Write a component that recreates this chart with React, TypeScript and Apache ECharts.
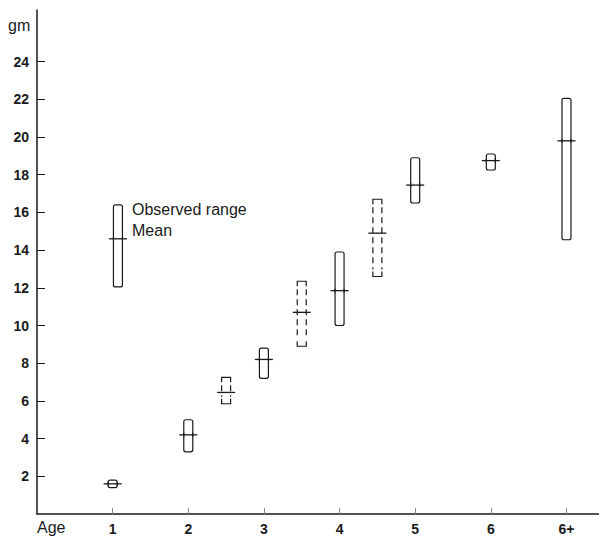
import React, { useEffect, useRef } from "react";
import * as echarts from "echarts";

const ages = [1, 2, 2.5, 3, 3.5, 4, 4.5, 5, 6, 7];
const lows = [1.4, 3.3, 5.85, 7.2, 8.9, 10.0, 12.6, 16.5, 18.25, 14.55];
const highs = [1.8, 5.0, 7.25, 8.8, 12.35, 13.9, 16.7, 18.9, 19.1, 22.05];
const means = [1.6, 4.2, 6.45, 8.2, 10.7, 11.85, 14.9, 17.45, 18.75, 19.8];
const dashed = [0, 0, 1, 0, 1, 0, 1, 0, 0, 0];

const xTickValues = [1, 2, 3, 4, 5, 6, 7];
const xTickLabels: Record<number, string> = { 1: "1", 2: "2", 3: "3", 4: "4", 5: "5", 6: "6", 7: "6+" };
const yTickValues = [2, 4, 6, 8, 10, 12, 14, 16, 18, 20, 22, 24];

// legend sample box
const legendBox = [1.07, 12.05, 16.4, 14.6, 0];
const legendTexts = ["Observed range", "Mean"];

const FONT = "'Liberation Sans', Arial, sans-serif";
const INK = "#1a1a1a";

export default function App() {
  const ref = useRef<HTMLDivElement>(null);
  useEffect(() => {
    document.body.style.margin = "0";
    if (!ref.current) return;
    const chart = echarts.init(ref.current, null, { renderer: "svg" });
    const data = ages.map((a, i) => [a, lows[i], highs[i], means[i], dashed[i]]);
    data.push(legendBox);

    const renderItem = (params: any, api: any) => {
      const xv = api.value(0);
      const top = api.coord([xv, api.value(2)]);
      const bot = api.coord([xv, api.value(1)]);
      const mid = api.coord([xv, api.value(3)]);
      const isDashed = api.value(4) === 1;
      const cx = top[0];
      const w = 9;
      const l = cx - w / 2;
      const r = cx + w / 2;
      const stroke = { stroke: INK, lineWidth: 1.2, fill: "none" };
      const children: any[] = [];
      if (!isDashed) {
        children.push({
          type: "rect",
          shape: { x: l, y: top[1], width: w, height: bot[1] - top[1], r: 2 },
          style: { ...stroke },
        });
      } else {
        const cap = 5;
        children.push({
          type: "polyline",
          shape: { points: [[l, top[1] + cap], [l, top[1]], [r, top[1]], [r, top[1] + cap]] },
          style: { ...stroke },
        });
        children.push({
          type: "polyline",
          shape: { points: [[l, bot[1] - cap], [l, bot[1]], [r, bot[1]], [r, bot[1] - cap]] },
          style: { ...stroke },
        });
        children.push({
          type: "line",
          shape: { x1: l, y1: top[1] + cap + 3, x2: l, y2: bot[1] - cap - 2 },
          style: { ...stroke, lineDash: [6, 4] },
        });
        children.push({
          type: "line",
          shape: { x1: r, y1: top[1] + cap + 3, x2: r, y2: bot[1] - cap - 2 },
          style: { ...stroke, lineDash: [6, 4] },
        });
      }
      children.push({
        type: "line",
        shape: { x1: cx - 9, y1: mid[1], x2: cx + 9, y2: mid[1] },
        style: { stroke: INK, lineWidth: 1.3 },
      });
      if (!isDashed) {
        children.push({
          type: "line",
          shape: { x1: l, y1: mid[1] - 2, x2: l, y2: mid[1] + 2 },
          style: { stroke: INK, lineWidth: 1.2 },
        });
        children.push({
          type: "line",
          shape: { x1: r, y1: mid[1] - 2, x2: r, y2: mid[1] + 2 },
          style: { stroke: INK, lineWidth: 1.2 },
        });
      }
      return { type: "group", children };
    };

    chart.setOption({
      animation: false,
      backgroundColor: "#fff",
      grid: { left: 37, right: 0, top: 10, bottom: 24 },
      xAxis: {
        type: "value",
        min: 0,
        max: 7.43,
        splitLine: { show: false },
        axisLine: { show: true, lineStyle: { color: INK, width: 1.5 } },
        axisTick: { show: true, inside: true, length: 6, customValues: xTickValues, lineStyle: { color: "#888", width: 1 } },
        axisLabel: {
          show: true,
          margin: 8,
          fontSize: 14,
          fontWeight: "bold",
          fontFamily: FONT,
          color: INK,
          customValues: xTickValues,
          formatter: (v: number) => xTickLabels[Math.round(v)] ?? "",
        },
      },
      yAxis: {
        type: "value",
        min: 0,
        max: 26.74,
        interval: 2,
        splitLine: { show: false },
        axisLine: { show: true, lineStyle: { color: INK, width: 1.5 } },
        axisTick: { show: true, inside: true, length: 8, customValues: yTickValues, lineStyle: { color: INK, width: 1 } },
        axisLabel: {
          show: true,
          margin: 8,
          fontSize: 14,
          fontWeight: "bold",
          fontFamily: FONT,
          color: INK,
          customValues: yTickValues,
          formatter: (v: number) => String(v),
        },
      },
      series: [
        {
          type: "custom",
          renderItem,
          data,
          clip: false,
          encode: { x: 0, y: [1, 2, 3] },
        },
      ],
      graphic: [
        { type: "text", left: 8, top: 17, style: { text: "gm", font: `16px ${FONT}`, fill: INK } },
        { type: "text", left: 37, top: 519, style: { text: "Age", font: `16px ${FONT}`, fill: INK } },
        { type: "text", left: 132, top: 201, style: { text: legendTexts[0], font: `16px ${FONT}`, fill: INK } },
        { type: "text", left: 132, top: 222, style: { text: legendTexts[1], font: `16px ${FONT}`, fill: INK } },
      ],
    });

    return () => chart.dispose();
  }, []);
  return <div ref={ref} style={{ width: 599, height: 538 }} />;
}
